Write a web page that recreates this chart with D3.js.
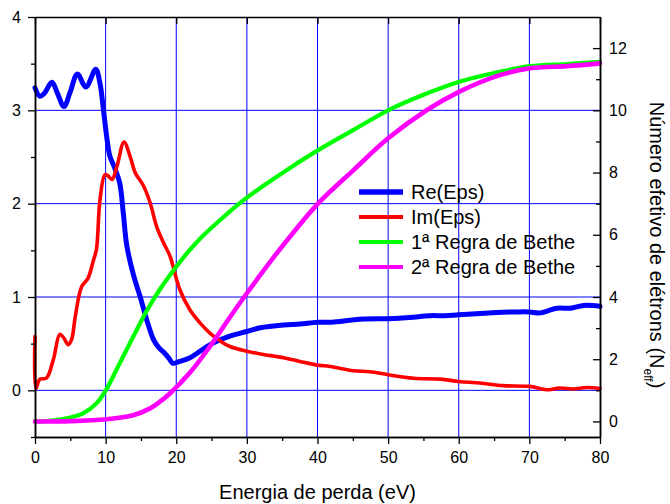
<!DOCTYPE html>
<html>
<head>
<meta charset="utf-8">
<script src="https://cdn.jsdelivr.net/npm/d3@7/dist/d3.min.js"></script>
<style>
  html, body { margin: 0; padding: 0; background: #fff; }
  svg { display: block; font-family: "Liberation Sans", Arial, sans-serif; }
</style>
</head>
<body>
<svg id="chart" width="670" height="504"></svg>
<script>
// Energy loss (eV) and values for each series
const reEps = [
  [0, 3.24], [0.7, 3.15], [1.3, 3.18], [2.4, 3.30], [3.2, 3.18], [4.1, 3.04],
  [5.0, 3.20], [6.0, 3.39], [7.2, 3.25], [8.6, 3.44], [9.2, 3.29], [9.7, 3.0],
  [10.2, 2.69], [10.6, 2.51], [11.3, 2.38], [12.0, 2.22], [12.5, 1.90], [13.0, 1.55],
  [14.0, 1.22], [14.9, 1.00], [15.8, 0.76], [16.8, 0.54], [17.5, 0.46], [18.2, 0.41],
  [19.0, 0.34], [19.5, 0.29], [20.5, 0.31], [21.95, 0.35], [23.4, 0.42], [24.8, 0.49],
  [27.6, 0.58], [30, 0.63], [31.9, 0.67], [35.2, 0.70], [37.5, 0.71], [40, 0.73],
  [42, 0.73], [44.6, 0.75], [46.5, 0.764], [50, 0.768], [53, 0.78], [55.9, 0.80],
  [58, 0.80], [60, 0.81], [62.5, 0.82], [65.4, 0.835], [68, 0.84], [70, 0.84],
  [71.5, 0.83], [73.9, 0.88], [75.8, 0.88], [77.7, 0.91], [80, 0.90]
];

const imEps = [
  [0, 0.58], [0.12, 0.02], [0.7, 0.12], [1.6, 0.13], [2.6, 0.33], [3.5, 0.60],
  [4.0, 0.57], [4.7, 0.49], [5.2, 0.55], [5.7, 0.79], [6.6, 1.11], [7.5, 1.20],
  [8.3, 1.40], [8.7, 1.51], [9.2, 2.04], [9.9, 2.31], [10.3, 2.30], [10.9, 2.26],
  [11.6, 2.40], [12.6, 2.66], [13.45, 2.51], [14.2, 2.33], [15.3, 2.20], [16.3, 2.01],
  [17.2, 1.76], [18.2, 1.58], [19.1, 1.44], [20.5, 1.08], [21.95, 0.86], [23.4, 0.72],
  [24.8, 0.61], [26.2, 0.53], [27.6, 0.47], [30, 0.42], [31.9, 0.39], [35.2, 0.35],
  [37.5, 0.31], [39.9, 0.27], [41.8, 0.256], [45.1, 0.21], [47.4, 0.20], [50, 0.167],
  [53.6, 0.13], [57.4, 0.12], [60, 0.095], [63, 0.078], [66.3, 0.05], [70, 0.042],
  [72.7, 0.006], [74.3, 0.025], [76.2, 0.015], [78.1, 0.03], [80, 0.02]
];

const bethe1 = [
  [0, 0], [2, 0.02], [4.5, 0.1], [6.8, 0.26], [8.7, 0.58], [10.05, 1.01], [12, 1.87],
  [13.9, 2.72], [15.8, 3.55], [17.7, 4.25], [19.1, 4.70], [21.5, 5.40], [23.4, 5.88],
  [25.5, 6.33], [29, 7.02], [32.5, 7.6], [36.1, 8.15], [40.1, 8.72], [45.1, 9.37],
  [50, 10.0], [55, 10.5], [60.1, 10.92], [65, 11.2], [70.1, 11.42], [75.3, 11.49], [80, 11.56]
];

const bethe2 = [
  [0, 0], [5, 0.01], [10.1, 0.07], [13.9, 0.2], [16.3, 0.42], [17.6, 0.62], [19.1, 0.9],
  [21.95, 1.57], [24.8, 2.42], [27.6, 3.35], [30, 4.12], [33.7, 5.25], [36.5, 6.05],
  [40.1, 7.01], [45.1, 8.08], [50, 9.1], [55.5, 10.01], [60.1, 10.6], [65.8, 11.13],
  [70.1, 11.35], [75.3, 11.42], [80, 11.51]
];

const xTicks = [0, 10, 20, 30, 40, 50, 60, 70, 80];
const yLeftTicks = [0, 1, 2, 3, 4];
const yRightTicks = [0, 2, 4, 6, 8, 10, 12];
const legendLabels = ["Re(Eps)", "Im(Eps)", "1ª Regra de Bethe", "2ª Regra de Bethe"];

const svg = d3.select("#chart");
const plotL = 35, plotR = 600, plotT = 17, plotB = 437;

const x = d3.scaleLinear().domain([0, 80]).range([plotL, plotR]);
const yL = d3.scaleLinear().domain([-0.5, 4]).range([plotB, plotT]);
const yR = d3.scaleLinear().domain([-0.5, 13]).range([plotB, plotT]);

// grid
const grid = svg.append("g").attr("stroke", "#0000ff").attr("stroke-width", 1);
grid.selectAll("line.v").data(xTicks.slice(1, -1)).join("line").attr("class", "v")
  .attr("x1", d => x(d)).attr("x2", d => x(d)).attr("y1", plotT).attr("y2", plotB);
grid.selectAll("line.h").data([0, 1, 2, 3]).join("line").attr("class", "h")
  .attr("x1", plotL).attr("x2", plotR).attr("y1", d => yL(d)).attr("y2", d => yL(d));

// series
const series = [
  { data: reEps, scale: yL, color: "#0000ff", width: 5 },
  { data: imEps, scale: yL, color: "#ff0000", width: 3.6 },
  { data: bethe1, scale: yR, color: "#00ff00", width: 4.2 },
  { data: bethe2, scale: yR, color: "#ff00ff", width: 4.6 }
];
series.forEach(s => {
  const line = d3.line().x(d => x(d[0])).y(d => s.scale(d[1])).curve(d3.curveCatmullRom.alpha(0.5));
  svg.append("path").datum(s.data)
    .attr("fill", "none").attr("stroke", s.color).attr("stroke-width", s.width)
    .attr("stroke-linejoin", "round").attr("stroke-linecap", "round")
    .attr("d", line);
});

// axes
function styleAxis(g) {
  g.selectAll(".domain").attr("stroke", "#000").attr("stroke-width", 1.5);
  g.selectAll(".tick line").attr("stroke", "#000").attr("stroke-width", 1.3);
  g.selectAll("text").attr("font-size", 16).attr("fill", "#000")
    .attr("font-family", "'Liberation Sans', Arial, sans-serif");
}
const fmt = d3.format("d");

// bottom
svg.append("g").attr("transform", `translate(0,${plotB})`)
  .call(d3.axisBottom(x).tickValues(d3.range(5, 80, 10)).tickSize(4).tickFormat("").tickSizeOuter(0))
  .call(styleAxis);
svg.append("g").attr("transform", `translate(0,${plotB})`)
  .call(d3.axisBottom(x).tickValues(xTicks).tickSize(7).tickPadding(8).tickFormat(fmt).tickSizeOuter(0))
  .call(styleAxis);

// top (inward ticks)
svg.append("g").attr("transform", `translate(0,${plotT})`)
  .call(d3.axisTop(x).tickValues(xTicks).tickSize(-7).tickFormat("").tickSizeOuter(0))
  .call(styleAxis);

// left
svg.append("g").attr("transform", `translate(${plotL},0)`)
  .call(d3.axisLeft(yL).tickValues([-0.5, 0.5, 1.5, 2.5, 3.5]).tickSize(4).tickFormat("").tickSizeOuter(0))
  .call(styleAxis);
svg.append("g").attr("transform", `translate(${plotL},0)`)
  .call(d3.axisLeft(yL).tickValues(yLeftTicks).tickSize(7).tickPadding(7).tickFormat(fmt).tickSizeOuter(0))
  .call(styleAxis);

// right (inward ticks)
svg.append("g").attr("transform", `translate(${plotR},0)`)
  .call(d3.axisRight(yR).tickValues([1, 3, 5, 7, 9, 11]).tickSize(-4).tickFormat("").tickSizeOuter(0))
  .call(styleAxis);
svg.append("g").attr("transform", `translate(${plotR},0)`)
  .call(d3.axisRight(yR).tickValues(yRightTicks).tickSize(-7).tickPadding(9).tickFormat(fmt).tickSizeOuter(0))
  .call(styleAxis);

// axis titles
svg.append("text")
  .attr("x", (plotL + plotR) / 2).attr("y", 499)
  .attr("text-anchor", "middle").attr("font-size", 20).attr("fill", "#000")
  .text("Energia de perda (eV)");

const rt = svg.append("text")
  .attr("transform", "translate(650,245) rotate(90)")
  .attr("text-anchor", "middle").attr("font-size", 20).attr("fill", "#000");
rt.append("tspan").text("Número efetivo de elétrons (N");
rt.append("tspan").attr("font-size", 12).attr("dy", 6).text("eff");
rt.append("tspan").attr("dy", -6).text(")");

// legend
const legend = svg.append("g");
series.forEach((s, i) => {
  const yy = 192 + i * 25;
  legend.append("line")
    .attr("x1", 359).attr("x2", 403).attr("y1", yy).attr("y2", yy)
    .attr("stroke", s.color).attr("stroke-width", i === 0 ? 5.5 : 4);
  legend.append("text")
    .attr("x", 411).attr("y", yy + 7)
    .attr("font-size", 20).attr("fill", "#000")
    .text(legendLabels[i]);
});
</script>
</body>
</html>
